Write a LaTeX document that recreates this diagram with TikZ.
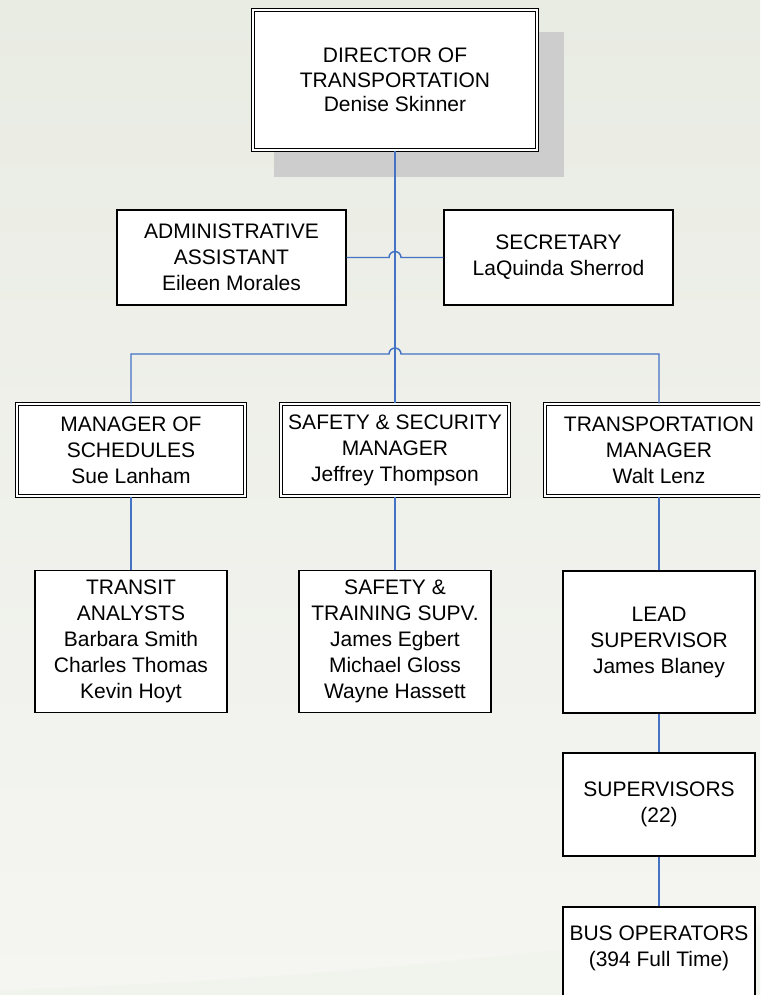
\documentclass[tikz,border=0pt]{standalone}
\usepackage{fontspec}
\setmainfont{Liberation Sans}
\usetikzlibrary{calc}
\definecolor{linkblue}{RGB}{68,114,196}
\definecolor{shadowgray}{RGB}{205,205,205}
\definecolor{bgtop}{RGB}{245,245,242}
\definecolor{bgbottom}{RGB}{233,236,227}
\definecolor{bgband}{RGB}{241,244,236}
\tikzset{
  orgtext/.style={align=center,font=\fontsize{15.75pt}{19.5pt}\selectfont,inner sep=0pt},
  box/.style={orgtext,draw,fill=white,line width=1.1pt},
  dbox/.style={orgtext,draw,fill=white,line width=0.9pt,double=white,double distance=1.5pt},
  link/.style={draw=linkblue,line width=1.1pt}
}
\begin{document}
\begin{tikzpicture}[x=0.75pt,y=0.75pt,yscale=-1,xscale=1]
            % background
            \clip (0,0) rectangle (760,995);
            \shade[top color=bgbottom,bottom color=bgtop] (0,0) rectangle (760,995);
            \fill[bgband] (0,990) .. controls (250,982) and (450,965) .. (760,925) -- (760,995) -- (0,995) -- cycle;
            % director
            \fill[shadowgray] (274,32) rectangle (564,177);
            \node[dbox,font=\fontsize{15.75pt}{18.2pt}\selectfont,minimum width=213pt,minimum height=105pt] (dir) at (395,80) {DIRECTOR OF\\TRANSPORTATION\\Denise Skinner};
            % staff
            \node[box,minimum width=171.75pt,minimum height=71.25pt] (adm) at (231.5,257.5) {ADMINISTRATIVE\\ASSISTANT\\Eileen Morales};
            \node[box,minimum width=171.75pt,minimum height=71.25pt] (sec) at (558.5,257.5) {SECRETARY\\LaQuinda Sherrod};
            % managers
            \node[dbox,minimum width=171pt,minimum height=69pt] (sch) at (131,450) {MANAGER OF\\SCHEDULES\\Sue Lanham};
            \node[dbox,minimum width=171pt,minimum height=69pt] (ssm) at (395,450) {SAFETY \& SECURITY\\MANAGER\\Jeffrey Thompson};
            \node[dbox,minimum width=171pt,minimum height=69pt] (tm) at (659,450) {TRANSPORTATION\\MANAGER\\Walt Lenz};
            % lower level
            \node[box,minimum width=144pt,minimum height=106.5pt] (ta) at (131,641.5) {TRANSIT\\ANALYSTS\\Barbara Smith\\Charles Thomas\\Kevin Hoyt};
            \node[box,minimum width=144pt,minimum height=106.5pt] (st) at (395,641.5) {SAFETY \&\\TRAINING SUPV.\\James Egbert\\Michael Gloss\\Wayne Hassett};
            \node[box,minimum width=144pt,minimum height=106.5pt] (ls) at (659,642) {LEAD\\SUPERVISOR\\James Blaney};
            \node[box,minimum width=144pt,minimum height=77.25pt] (sup) at (659,804.5) {SUPERVISORS\\(22)};
            \node[box,minimum width=144pt,minimum height=78pt] (bus) at (659,959) {BUS OPERATORS\\(394 Full Time)\\\mbox{}};
            % connectors
            \coordinate (hopa) at (dir.south |- adm.east);
            \coordinate (hopb) at (395,354);
            \draw[link] (dir.south) -- (ssm.north);
            \draw[link] (adm.east) -- ($(hopa)+(-6,0)$) arc (180:360:6) -- (sec.west);
            \draw[link] (sch.north) |- ($(hopb)+(-6,0)$) arc (180:360:6) -- (tm.north |- hopb) -- (tm.north);
            \draw[link] (sch.south) -- (ta.north);
            \draw[link] (ssm.south) -- (st.north);
            \draw[link] (tm.south) -- (ls.north);
            \draw[link] (ls.south) -- (sup.north);
            \draw[link] (sup.south) -- (bus.north);
        \end{tikzpicture}
\end{document}
